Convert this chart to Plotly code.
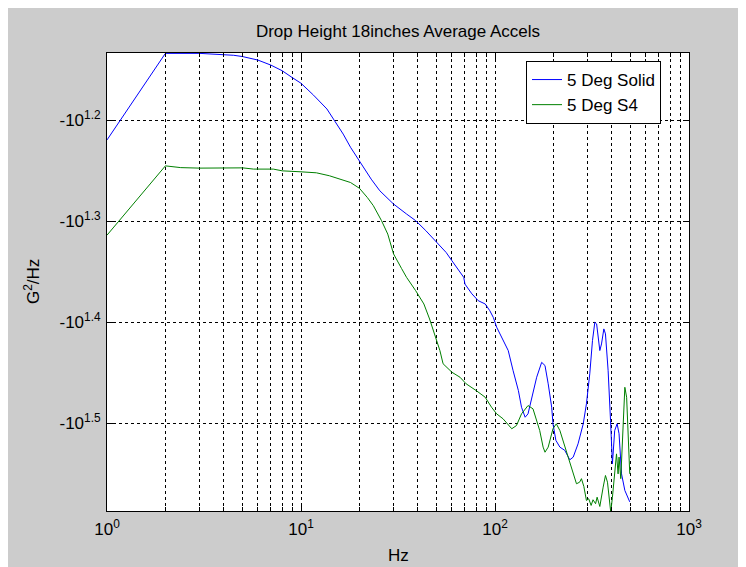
import plotly.graph_objects as go

# ---------------- data ----------------
freq_solid = [1, 2, 3, 3.7, 4.5, 5, 6, 7, 8, 9, 10, 11.6, 13.6, 14.7, 16.5, 18, 20, 23,
              25.5, 30, 35, 39, 44, 50, 56, 60, 65, 69, 70, 76, 82, 89, 94, 98, 102,
              110, 117, 124, 132, 137, 143, 148, 157, 164, 174, 181, 188, 196, 199,
              206, 216, 229, 243, 253, 268, 285, 296, 308, 318, 327, 334, 347, 354,
              364, 371, 383, 394, 403, 414, 426, 436, 449, 467, 495]
psd_solid = [-16.58, -13.61, -13.61, -13.63, -13.67, -13.71, -13.82, -13.98, -14.16,
             -14.38, -14.57, -14.97, -15.45, -15.81, -16.36, -16.86, -17.39, -18.13,
             -18.62, -19.19, -19.63, -19.93, -20.39, -20.94, -21.43, -21.84, -22.34,
             -22.68, -23.03, -23.55, -23.92, -24.10, -24.47, -24.85, -25.41, -26.20,
             -26.80, -28.06, -29.36, -30.50, -31.20, -30.96, -29.58, -28.48, -27.53,
             -27.73, -28.91, -30.50, -31.67, -32.89, -33.40, -33.65, -34.38, -34.17,
             -33.15, -31.67, -30.26, -28.26, -26.20, -25.13, -25.22, -26.80, -26.40,
             -25.51, -25.80, -28.06, -31.43, -34.69, -32.16, -31.67, -32.40, -35.50,
             -36.87, -37.84]

freq_s4 = [1, 2, 2.4, 3, 5, 5.7, 7.2, 8, 10, 12, 14, 16, 17.2, 18, 20, 22, 23.6, 26,
           28, 30, 33, 35, 39, 43, 46, 48, 50, 52, 54, 60, 66, 71, 80, 89, 96, 102,
           110, 122, 129, 137, 148, 157, 170, 177, 181, 188, 199, 207, 216, 229, 243,
           255, 263, 273, 279, 287, 296, 304, 313, 320, 330, 336, 347, 361, 371, 380,
           387, 395, 403, 414, 423, 431, 436, 445, 452, 461, 467, 477, 485, 495]
psd_s4 = [-20.60, -17.59, -17.66, -17.68, -17.67, -17.72, -17.72, -17.79, -17.83,
          -17.87, -17.99, -18.13, -18.20, -18.27, -18.51, -18.91, -19.26, -19.93,
          -20.55, -21.50, -22.23, -22.68, -23.38, -24.10, -24.94, -25.61, -26.30,
          -26.80, -27.62, -28.16, -28.48, -28.91, -29.36, -29.81, -30.50, -30.96,
          -31.31, -32.03, -31.80, -30.96, -30.38, -30.61, -32.16, -33.40, -33.79,
          -33.40, -32.03, -31.67, -32.16, -33.40, -34.69, -35.77, -36.31, -36.18,
          -35.89, -36.53, -37.72, -37.57, -38.15, -37.66, -38.00, -37.44, -38.24,
          -36.59, -35.63, -36.18, -37.72, -38.73, -37.44, -35.50, -33.92, -35.50,
          -34.17, -35.89, -33.40, -30.19, -29.14, -29.81, -32.40, -35.50]

series_names = ["5 Deg Solid", "5 Deg S4"]
x_tick_vals = [1, 10, 100, 1000]
x_tick_text = ["10<sup>0</sup>", "10<sup>1</sup>", "10<sup>2</sup>", "10<sup>3</sup>"]
x_minor_vals = [m * d for d in (1, 10, 100) for m in range(2, 10)]
y_tick_exps = [1.2, 1.3, 1.4, 1.5]
y_tick_text = ["-10<sup>1.2</sup>", "-10<sup>1.3</sup>", "-10<sup>1.4</sup>", "-10<sup>1.5</sup>"]

# --------------------------------------------------------------
FONT = "Liberation Sans, Arial, sans-serif"
FS = 17
# the page body adds an 8px white margin on the top/left
W, H = 738, 559
L, R, T, B = 99, 57, 45, 56
pw, ph = W - L - R, H - T - B


def px_to_paper_x(px):
    return (px - L) / pw


def px_to_paper_y(py):
    return (H - B - py) / ph


fig = go.Figure()
fig.add_trace(go.Scatter(x=freq_solid, y=[-v for v in psd_solid], mode="lines",
                         name=series_names[0], line=dict(color="#0000ff", width=1)))
fig.add_trace(go.Scatter(x=freq_s4, y=[-v for v in psd_s4], mode="lines",
                         name=series_names[1], line=dict(color="#008000", width=1)))

grid_dash = "3px,3px"
fig.update_xaxes(
    type="log", range=[0, 3],
    tickmode="array", tickvals=x_tick_vals, ticktext=x_tick_text,
    ticks="inside", ticklen=6, tickcolor="black", tickwidth=1,
    showline=True, linecolor="black", linewidth=1, mirror="ticks",
    showgrid=True, gridcolor="black", gridwidth=1, griddash=grid_dash,
    minor=dict(tickmode="array", tickvals=x_minor_vals, ticks="inside", ticklen=4,
               tickcolor="black", showgrid=True, gridcolor="black", gridwidth=1,
               griddash=grid_dash),
    tickfont=dict(family=FONT, size=FS, color="black"),
    ticklabelstandoff=3,
    zeroline=False,
)
fig.update_yaxes(
    type="log", range=[1.587, 1.1335],
    tickmode="array", tickvals=[10 ** e for e in y_tick_exps], ticktext=y_tick_text,
    ticks="inside", ticklen=6, tickcolor="black", tickwidth=1,
    showline=True, linecolor="black", linewidth=1, mirror="ticks",
    showgrid=True, gridcolor="black", gridwidth=1, griddash=grid_dash,
    tickfont=dict(family=FONT, size=FS, color="black"),
    ticklabelstandoff=2,
    zeroline=False,
)

fig.update_layout(
    width=W, height=H,
    margin=dict(l=L, r=R, t=T, b=B),
    paper_bgcolor="#cccccc", plot_bgcolor="white",
    font=dict(family=FONT, size=FS, color="black"),
    title=dict(text="Drop Height 18inches Average Accels", x=0.5, xref="paper",
               y=1 - 23 / H, yref="container", xanchor="center", yanchor="middle",
               font=dict(family=FONT, size=FS, color="black")),
    showlegend=True,
    legend=dict(x=px_to_paper_x(518), y=px_to_paper_y(53), xanchor="left", yanchor="top",
                bgcolor="white", bordercolor="black", borderwidth=1,
                font=dict(family=FONT, size=FS, color="black"),
                tracegroupgap=0, itemwidth=30),
    annotations=[
        dict(text="Hz", xref="paper", yref="paper", x=0.5, y=px_to_paper_y(547),
             showarrow=False, xanchor="center", yanchor="middle",
             font=dict(family=FONT, size=FS, color="black")),
        dict(text="G<sup>2</sup>/Hz", xref="paper", yref="paper", x=px_to_paper_x(24),
             y=0.5, showarrow=False, textangle=-90, xanchor="center", yanchor="middle",
             font=dict(family=FONT, size=FS, color="black")),
    ],
)

fig.write_html("out.html")
